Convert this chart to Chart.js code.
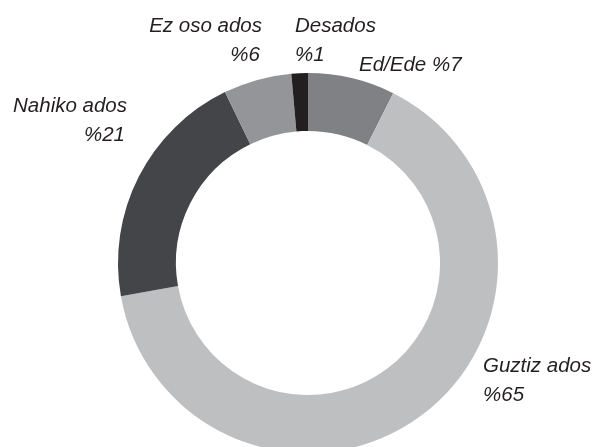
<!DOCTYPE html>
<html>
<head>
<meta charset="utf-8">
<script src="https://cdn.jsdelivr.net/npm/chart.js@4"></script>
<style>
  html, body { margin: 0; padding: 0; background: #fff; overflow: hidden; }
  #wrap { position: absolute; left: 0; top: 0; width: 594px; height: 460px; }
</style>
</head>
<body>
<div id="wrap"><canvas id="chart"></canvas></div>
<script>
// Answer categories, clockwise from 12 o'clock
const categories = ['Ed/Ede', 'Guztiz ados', 'Nahiko ados', 'Ez oso ados', 'Desados'];
// slice sizes (labels show them rounded)
const percents = [7.4, 64.8, 20.6, 5.8, 1.4];
const sliceColors = ['#808184', '#bebfc1', '#444548', '#949598', '#231f20'];

// Label placement: offset from the doughnut centre (px), alignment, one or two lines
const labelLayout = [
  { dx: 51, dy: -192, align: 'left', oneLine: true },
  { dx: 175, dy: 109, align: 'left' },
  { dx: -181, dy: -151, align: 'right' },
  { dx: -46, dy: -231, align: 'right' },
  { dx: -13, dy: -231, align: 'left' }
];

const outsideLabels = {
  id: 'outsideLabels',
  afterDraw(chart) {
    const ctx = chart.ctx;
    const arc = chart.getDatasetMeta(0).data[0];
    if (!arc) return;
    ctx.save();
    ctx.font = 'italic 20.5px "Liberation Sans", Arial, sans-serif';
    ctx.fillStyle = '#231f20';
    ctx.textBaseline = 'alphabetic';
    categories.forEach((name, i) => {
      const l = labelLayout[i];
      const x = arc.x + l.dx;
      const y = arc.y + l.dy;
      const pct = '%' + Math.round(percents[i]);
      ctx.textAlign = l.align;
      if (l.oneLine) {
        ctx.fillText(name + ' ' + pct, x, y);
      } else {
        ctx.fillText(name, x, y);
        ctx.fillText(pct, x - (l.align === 'right' ? 2 : 0), y + 29);
      }
    });
    ctx.restore();
  }
};

new Chart(document.getElementById('chart'), {
  type: 'doughnut',
  data: {
    labels: categories,
    datasets: [{
      data: percents,
      backgroundColor: sliceColors,
      borderWidth: 0
    }]
  },
  options: {
    responsive: true,
    maintainAspectRatio: false,
    animation: false,
    cutout: '69.5%',
    layout: { padding: { left: 118, right: 96, top: 73, bottom: 7 } },
    plugins: {
      legend: { display: false },
      tooltip: { enabled: false }
    }
  },
  plugins: [outsideLabels]
});
</script>
</body>
</html>
